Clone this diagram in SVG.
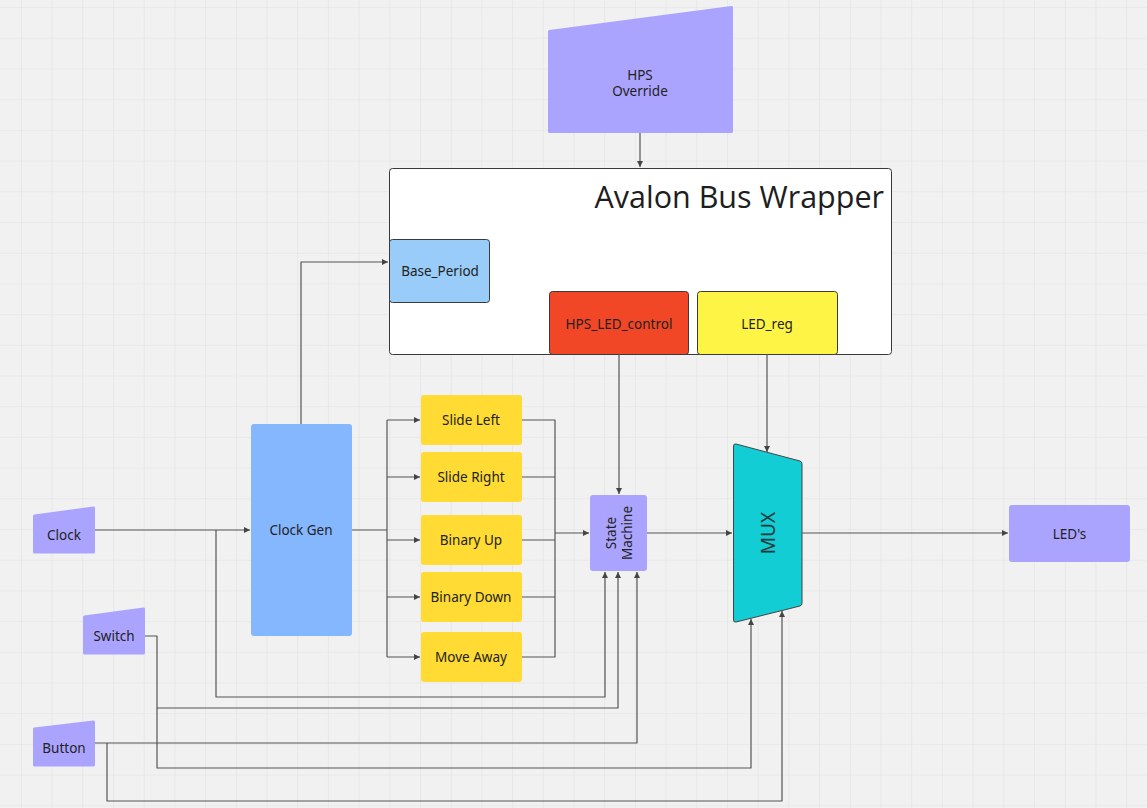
<svg xmlns="http://www.w3.org/2000/svg" width="1147" height="808" viewBox="0 0 1147 808">
<style>
.lbl{font-family:"Noto Sans","Liberation Sans",sans-serif;font-size:13.5px;fill:#222;text-anchor:middle;dominant-baseline:central}
.wire{fill:none;stroke:#555;stroke-width:1.2;stroke-linejoin:round}
.purple{fill:#aba4ff;stroke:#aba4ff;stroke-width:3;stroke-linejoin:round}
.yellow{fill:#ffdb33}
.boxed{stroke:#3a3a3a;stroke-width:1}
</style>
<defs>
<pattern id="grid" patternUnits="userSpaceOnUse" x="20.9" y="7.1" width="30.7" height="30.7">
<path d="M0 0H30.7M0 0V30.7" stroke="#e2e2e2" stroke-width="1.2" fill="none"/>
</pattern>
<marker id="arr" markerWidth="8" markerHeight="8" refX="7" refY="4" orient="auto" markerUnits="userSpaceOnUse">
<path d="M1 1L7 4L1 7Z" fill="#444"/>
</marker>
</defs>
<rect width="1147" height="808" fill="#f1f1f1"/>
<rect width="1147" height="808" fill="url(#grid)"/>

<g id="hps_override">
<path class="purple" d="M549.5 31.5L731.5 7.5V131.5H549.5Z"/>
<text class="lbl" x="640" y="75">HPS</text>
<text class="lbl" x="640" y="91">Override</text>
</g>

<g id="avalon_wrapper">
<rect x="389.5" y="168.5" width="502" height="186" rx="3" fill="#ffffff" stroke="#3a3a3a" stroke-width="1"/>
<text x="884" y="208" font-family="'Open Sans','Noto Sans',sans-serif" font-size="30.5" fill="#1e1e1e" text-anchor="end">Avalon Bus Wrapper</text>
</g>

<g id="base_period">
<rect class="boxed" x="389.5" y="239.5" width="100" height="63" rx="3" fill="#99ccf9"/>
<text class="lbl" x="440" y="271">Base_Period</text>
</g>

<g id="hps_led_control">
<rect class="boxed" x="549.5" y="291.5" width="139" height="63" rx="3" fill="#f24726"/>
<text class="lbl" x="619" y="324">HPS_LED_control</text>
</g>

<g id="led_reg">
<rect class="boxed" x="697.5" y="291.5" width="140" height="63" rx="3" fill="#fef445"/>
<text class="lbl" x="767" y="324">LED_reg</text>
</g>

<g id="clock_gen">
<rect x="251" y="424" width="101" height="212" rx="3" fill="#85b7ff"/>
<text class="lbl" x="301" y="530">Clock Gen</text>
</g>

<g id="slide_left">
<rect class="yellow" x="421" y="395" width="101" height="50" rx="3"/>
<text class="lbl" x="471" y="420">Slide Left</text>
</g>
<g id="slide_right">
<rect class="yellow" x="421" y="452" width="101" height="50" rx="3"/>
<text class="lbl" x="471" y="477">Slide Right</text>
</g>
<g id="binary_up">
<rect class="yellow" x="421" y="515" width="101" height="50" rx="3"/>
<text class="lbl" x="471" y="540">Binary Up</text>
</g>
<g id="binary_down">
<rect class="yellow" x="421" y="572" width="101" height="50" rx="3"/>
<text class="lbl" x="471" y="597">Binary Down</text>
</g>
<g id="move_away">
<rect class="yellow" x="421" y="632" width="101" height="50" rx="3"/>
<text class="lbl" x="471" y="657">Move Away</text>
</g>

<g id="state_machine">
<rect x="590" y="495" width="57" height="76" rx="3" fill="#aba4ff"/>
<text class="lbl" transform="translate(618.5 533) rotate(-90)" x="0" y="-8">State</text>
<text class="lbl" transform="translate(618.5 533) rotate(-90)" x="0" y="8">Machine</text>
</g>

<g id="mux">
<path d="M733.5 446Q733.5 443.5 736 444L800 461Q802 461.5 802 464V603Q802 605.5 800 606L736 622Q733.5 622.5 733.5 620Z" fill="#12cdd4" stroke="#444" stroke-width="1"/>
<text transform="translate(768 533) rotate(-90)" x="0" y="0" font-family="'Noto Sans','Liberation Sans',sans-serif" font-size="19" fill="#1a3a3a" text-anchor="middle" dominant-baseline="central">MUX</text>
</g>

<g id="leds">
<rect x="1009" y="505" width="121" height="57" rx="3" fill="#aba4ff"/>
<text class="lbl" x="1069.5" y="534">LED's</text>
</g>

<g id="clock">
<path class="purple" d="M34.5 516L93.5 508V552H34.5Z"/>
<text class="lbl" x="64" y="535">Clock</text>
</g>
<g id="switch">
<path class="purple" d="M84.5 617L143.5 609V653H84.5Z"/>
<text class="lbl" x="114" y="636">Switch</text>
</g>
<g id="button">
<path class="purple" d="M34.5 729L93.5 722V765H34.5Z"/>
<text class="lbl" x="64" y="748">Button</text>
</g>

<g id="connectors">
<path class="wire" d="M640 133V167" marker-end="url(#arr)"/>
<path class="wire" d="M301 424V262H388" marker-end="url(#arr)"/>
<path class="wire" d="M95 530H250" marker-end="url(#arr)"/>
<path class="wire" d="M216 530V697H605V572" marker-end="url(#arr)"/>
<path class="wire" d="M145 636H157V708H618V572" marker-end="url(#arr)"/>
<path class="wire" d="M157 708V768H751V619" marker-end="url(#arr)"/>
<path class="wire" d="M95 743H637V572" marker-end="url(#arr)"/>
<path class="wire" d="M107 743V801H782V611" marker-end="url(#arr)"/>
<path class="wire" d="M352 530H387"/>
<path class="wire" d="M387 420V657"/>
<path class="wire" d="M387 420H420" marker-end="url(#arr)"/>
<path class="wire" d="M387 477H420" marker-end="url(#arr)"/>
<path class="wire" d="M387 540H420" marker-end="url(#arr)"/>
<path class="wire" d="M387 597H420" marker-end="url(#arr)"/>
<path class="wire" d="M387 657H420" marker-end="url(#arr)"/>
<path class="wire" d="M522 420H555V657H522"/>
<path class="wire" d="M522 477H555"/>
<path class="wire" d="M522 540H555"/>
<path class="wire" d="M522 597H555"/>
<path class="wire" d="M555 533H589" marker-end="url(#arr)"/>
<path class="wire" d="M619 354V494" marker-end="url(#arr)"/>
<path class="wire" d="M767 354V452" marker-end="url(#arr)"/>
<path class="wire" d="M647 533H732" marker-end="url(#arr)"/>
<path class="wire" d="M802 533H1008" marker-end="url(#arr)"/>
</g>
</svg>
